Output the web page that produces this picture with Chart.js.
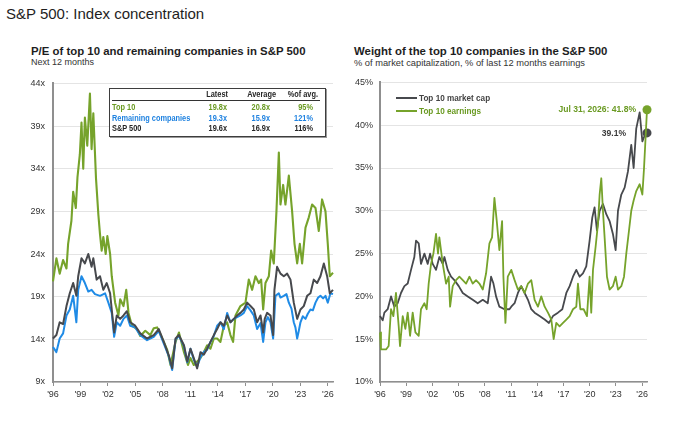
<!DOCTYPE html>
<html lang="en">
<head>
<meta charset="UTF-8" />
<title>S&amp;P 500: Index concentration</title>
<script src="https://cdn.jsdelivr.net/npm/chart.js@4.4.0/dist/chart.umd.min.js"></script>
<style>
  *{box-sizing:border-box;margin:0;padding:0}
  body{width:695px;height:425px;background:#fff;font-family:'Liberation Sans',Arial,sans-serif;color:#1e1e1e;position:relative;overflow:hidden}
  .abs{position:absolute;white-space:nowrap}
  #title{left:6px;top:6px;font-size:15px;line-height:16px}
  .sub{font-size:11.4px;font-weight:700;line-height:12px}
  .note{font-size:9px;line-height:10px;color:#333}
  .wrap{position:absolute;top:70px;height:335px}
  #peWrap{left:0;width:345px}
  #wtWrap{left:345px;width:350px}

  /* P/E table */
  #tblBox{left:109px;top:88px;width:217px;height:49px;border:1.5px solid #3d3d3d;background:#fff;box-shadow:1px 1px 0 #999}
  #tblRule{left:112px;top:100px;width:208px;height:0;border-top:1px solid #333}
  /* narrow look: no condensed face is installed, so squeeze the regular one */
  .cell{font-weight:700;font-size:9px;line-height:10px;transform:scaleX(.82);transform-origin:left center}
  .r{text-align:right;width:50px;transform-origin:right center}
  .g{color:#6a9a22}.b{color:#1f82e0}.k{color:#262626}

  /* weight legend */
  .leg{font-weight:700;font-size:9.5px;line-height:10px;transform:scaleX(.86);transform-origin:left center}
  .swatch{position:absolute;width:21px;height:0;border-top:2.5px solid}
</style>
</head>
<body>
<div id="title" class="abs">S&amp;P 500: Index concentration</div>

<div class="abs sub" style="left:31px;top:45px">P/E of top 10 and remaining companies in S&amp;P 500</div>
<div class="abs note" style="left:31px;top:57px">Next 12 months</div>
<div class="abs sub" style="left:354px;top:45px">Weight of the top 10 companies in the S&amp;P 500</div>
<div class="abs note" style="left:354px;top:58px;font-size:9.3px">% of market capitalization, % of last 12 months earnings</div>

<div id="peWrap" class="wrap"><canvas id="peChart" width="345" height="335"></canvas></div>
<div id="wtWrap" class="wrap"><canvas id="wtChart" width="350" height="335"></canvas></div>

<!-- table over the P/E chart -->
<div id="tblBox" class="abs"></div>
<div id="tblRule" class="abs"></div>
<div class="abs cell k r" style="left:178px;top:89px">Latest</div>
<div class="abs cell k r" style="left:226px;top:89px">Average</div>
<div class="abs cell k r" style="left:268px;top:89px">%of avg.</div>

<div class="abs cell g" style="left:112px;top:102px">Top 10</div>
<div class="abs cell g r" style="left:177px;top:102px">19.8x</div>
<div class="abs cell g r" style="left:220px;top:102px">20.8x</div>
<div class="abs cell g r" style="left:263px;top:102px">95%</div>

<div class="abs cell b" style="left:112px;top:112.5px">Remaining companies</div>
<div class="abs cell b r" style="left:177px;top:112.5px">19.3x</div>
<div class="abs cell b r" style="left:220px;top:112.5px">15.9x</div>
<div class="abs cell b r" style="left:263px;top:112.5px">121%</div>

<div class="abs cell k" style="left:112px;top:123px">S&amp;P 500</div>
<div class="abs cell k r" style="left:177px;top:123px">19.6x</div>
<div class="abs cell k r" style="left:220px;top:123px">16.9x</div>
<div class="abs cell k r" style="left:263px;top:123px">116%</div>

<!-- legend inside the weight chart -->
<div class="swatch" style="left:396px;top:96.5px;border-color:#47494d"></div>
<div class="abs leg" style="left:419px;top:92.5px;color:#444">Top 10 market cap</div>
<div class="swatch" style="left:396px;top:110px;border-color:#76a32b"></div>
<div class="abs leg" style="left:419px;top:106px;color:#6a9a22">Top 10 earnings</div>

<script>
const GREEN = '#76a32b', BLUE = '#1f8be6', DARK = '#47494d';

// x axis: years, ticks every three years
const tickYears = [1996, 1999, 2002, 2005, 2008, 2011, 2014, 2017, 2020, 2023, 2026];
const peTicks = [9, 14, 19, 24, 29, 34, 39, 44];
const wtTicks = [10, 15, 20, 25, 30, 35, 40, 45];

// forward P/E, S&P 500
const spYears = [1996.00,1996.37,1996.73,1997.10,1997.47,1997.83,1998.20,1998.55,1998.75,1999.11,
  1999.48,1999.85,2000.21,2000.40,2000.76,2001.13,2001.49,2001.86,2002.23,2002.41,
  2002.67,2002.96,2003.33,2003.69,2004.06,2004.42,2004.97,2005.52,2006.26,2006.99,
  2007.54,2008.09,2008.64,2009.00,2009.37,2009.74,2010.29,2010.65,
  2011.00,2011.36,2011.73,2012.09,2012.45,2012.82,2013.18,2013.55,2013.91,2014.27,
  2014.64,2015.00,2015.36,2015.73,2016.09,2016.45,2016.82,2017.18,2017.55,2017.91,
  2018.27,2018.64,2018.93,2019.10,2019.36,2019.73,2020.02,2020.16,2020.45,2020.82,
  2021.18,2021.55,2021.91,2022.27,2022.64,2023.00,2023.36,2023.73,2024.09,2024.45,
  2024.82,2025.18,2025.55,2025.91,2026.20,2026.55];
const spPE = [14.1,14.5,16.0,15.8,17.9,19.4,20.6,19.1,21.4,23.5,
  22.9,24.0,22.5,23.5,21.0,21.4,19.8,20.6,19.4,17.5,
  14.8,16.8,16.4,16.8,17.3,16.0,15.6,14.7,14.1,14.5,
  15.2,13.7,12.1,10.6,14.1,14.5,13.3,11.4,
  12.9,11.8,10.6,12.5,12.2,12.9,13.7,14.5,15.2,16.0,
  15.6,16.8,16.0,16.4,16.8,17.1,17.5,18.3,17.9,17.5,
  16.0,16.8,14.8,16.4,17.1,16.8,14.5,19.8,22.5,21.7,
  21.4,21.7,21.0,18.3,16.4,17.5,17.9,19.1,19.4,21.0,
  20.6,21.4,22.9,21.4,19.4,19.8];

// forward P/E, remaining companies
const restYears = [1996.00,1996.37,1996.73,1997.10,1997.47,1997.83,1998.20,1998.55,1998.75,1999.11,
  1999.48,1999.85,2000.21,2000.58,2001.13,2001.68,2002.04,2002.41,2002.67,2002.96,
  2003.33,2003.69,2004.06,2004.42,2004.97,2005.52,2006.26,2006.99,2007.54,2008.09,
  2008.64,2009.00,2009.37,2009.74,2010.29,2010.65,
  2011.00,2011.36,2011.73,2012.09,2012.45,2012.82,2013.18,2013.55,2013.91,2014.27,
  2014.64,2015.00,2015.36,2015.73,2016.09,2016.45,2016.82,2017.18,2017.55,2017.91,
  2018.27,2018.64,2018.93,2019.18,2019.44,2019.73,2020.02,2020.27,2020.64,2020.82,
  2021.18,2021.47,2021.73,2022.02,2022.27,2022.45,2022.64,2022.82,2023.00,2023.25,
  2023.55,2023.80,2024.09,2024.35,2024.64,2024.93,2025.18,2025.47,2025.73,2025.98,
  2026.27,2026.55];
const restPE = [13.1,12.5,14.1,14.7,16.8,17.5,19.1,16.0,19.8,21.4,
  20.6,19.6,19.8,19.3,19.1,19.4,18.3,17.1,14.3,16.0,
  15.6,16.4,16.8,15.6,15.4,14.5,13.9,14.3,15.0,13.5,
  12.0,10.4,14.0,14.4,13.2,11.3,
  12.9,11.6,10.8,11.9,12.5,12.8,13.7,14.4,15.6,16.0,
  15.2,17.1,16.0,16.4,16.6,16.8,17.1,17.9,17.4,16.8,
  15.2,15.9,13.7,16.0,16.6,16.0,14.1,19.1,19.4,18.9,
  19.1,19.3,18.3,17.6,16.0,15.4,14.1,15.0,16.0,16.7,
  16.4,17.0,17.5,17.4,18.3,18.9,19.1,18.8,19.1,18.3,
  19.4,19.3];

// forward P/E, top 10
const topYears = [1996.00,1996.37,1996.73,1997.10,1997.47,1997.65,1998.01,1998.20,1998.49,1998.67,
  1998.93,1999.11,1999.30,1999.48,1999.74,2000.03,2000.21,2000.40,2000.69,2000.95,
  2001.13,2001.31,2001.49,2001.75,2001.93,2002.23,2002.41,2002.78,2003.14,2003.33,
  2003.69,2003.99,2004.24,2004.61,2005.16,2005.52,2006.07,2006.62,2006.99,2007.36,
  2007.72,2008.09,2008.45,2008.82,2009.37,2009.74,2010.29,2010.73,
  2011.00,2011.36,2011.73,2012.09,2012.45,2012.82,2013.18,2013.55,2013.91,2014.27,
  2014.64,2015.00,2015.36,2015.65,2015.91,2016.45,2017.00,2017.36,2017.73,2018.09,
  2018.45,2018.71,2018.93,2019.18,2019.55,2019.80,2020.09,2020.38,2020.64,2020.82,
  2021.11,2021.36,2021.73,2022.09,2022.35,2022.64,2022.93,2023.18,2023.55,2023.91,
  2024.27,2024.64,2025.00,2025.36,2025.73,2025.98,2026.20,2026.55];
const topPE = [20.8,23.5,21.7,23.3,22.3,25.2,27.9,31.3,29.4,33.0,
  35.7,39.4,34.0,40.0,36.7,42.8,36.3,40.5,32.9,28.6,
  26.3,24.4,26.0,24.0,26.1,24.0,21.4,18.3,16.8,18.7,
  17.9,19.8,17.1,15.6,15.2,14.4,15.0,14.5,15.3,15.4,
  14.6,13.7,12.8,11.0,13.7,14.8,12.5,11.0,
  11.8,11.0,11.4,11.8,12.5,13.3,12.9,14.1,14.1,13.7,
  15.6,16.0,14.5,13.7,16.8,17.9,18.3,21.0,19.8,21.4,
  20.6,21.0,17.5,20.6,21.4,24.4,22.9,29.0,35.9,29.8,
  32.1,29.8,33.2,29.0,25.2,22.9,25.2,22.9,27.1,28.3,
  29.8,29.4,26.7,30.4,29.0,25.2,21.4,21.8];

// weight of top 10: % of market cap
const mcapYears = [1996.00,1996.31,1996.50,1996.88,1997.26,1997.64,1998.02,1998.40,1998.79,1999.17,
  1999.55,1999.93,2000.12,2000.43,2000.69,2001.08,2001.46,2001.73,2002.03,2002.41,
  2002.79,2003.18,2003.37,2003.75,2004.13,2004.51,2005.01,2005.47,2006.04,2006.61,
  2007.18,2007.76,2008.33,2008.71,2008.98,2009.28,2009.66,2010.24,2010.81,
  2011.02,2011.40,2011.78,2012.16,2012.55,2012.93,2013.31,2013.69,2014.26,2014.84,
  2015.33,2015.79,2016.36,2016.86,2017.32,2017.70,2018.08,2018.46,2018.84,2019.22,
  2019.60,2019.98,2020.29,2020.55,2020.82,2021.13,2021.51,2021.89,2022.27,2022.65,
  2022.96,2023.23,2023.61,2023.99,2024.37,2024.75,2025.02,2025.32,2025.71,2026.02,
  2026.28,2026.55];
const mcapShare = [17.7,17.2,18.1,18.5,20.0,18.8,19.2,20.4,21.2,21.5,
  23.1,24.6,26.5,26.2,23.8,25.0,23.8,25.0,23.8,23.1,
  24.6,23.8,24.6,23.1,22.3,21.9,21.2,20.4,20.0,19.6,
  19.2,19.6,19.2,22.3,21.5,20.0,18.8,18.5,18.5,
  18.8,19.2,20.4,21.2,20.4,19.6,18.5,18.1,17.7,17.3,
  16.9,17.7,18.1,18.5,20.4,21.2,22.3,23.1,22.3,22.7,
  23.5,26.5,29.2,30.4,27.7,30.0,30.8,29.6,28.8,27.3,
  25.4,30.0,31.9,32.7,34.6,37.7,35.0,39.6,41.5,38.1,
  38.8,39.1];

// weight of top 10: % of last 12 months earnings
const earnYears = [1996.00,1996.11,1996.69,1996.99,1997.26,1997.53,1997.83,1998.14,1998.29,1998.60,
  1998.90,1999.17,1999.44,1999.74,2000.05,2000.43,2000.69,2001.08,2001.34,2001.57,
  2001.84,2002.11,2002.41,2002.64,2002.79,2003.18,2003.56,2003.86,2004.02,2004.32,
  2004.70,2005.08,2005.47,2005.85,2006.23,2006.61,2006.99,2007.37,2007.76,2008.14,
  2008.52,2008.82,2009.09,2009.36,2009.66,2009.97,2010.12,2010.35,2010.62,
  2011.02,2011.40,2011.78,2012.16,2012.55,2012.93,2013.31,2013.69,2014.07,2014.45,
  2014.84,2015.22,2015.60,2015.87,2016.17,2016.55,2016.94,2017.32,2017.70,2018.08,
  2018.46,2018.65,2018.92,2019.30,2019.68,2019.98,2020.17,2020.37,2020.67,2020.94,
  2021.13,2021.32,2021.51,2021.70,2021.97,2022.27,2022.65,2022.96,2023.23,2023.61,
  2023.92,2024.18,2024.49,2024.75,2025.02,2025.32,2025.71,2026.02,2026.21,2026.40,
  2026.55];
const earnShare = [15.8,13.8,13.8,14.2,18.5,17.7,20.4,16.5,14.2,17.7,
  16.2,18.1,15.4,18.1,15.8,15.4,18.5,19.2,18.5,21.5,
  23.8,25.0,27.3,25.0,26.9,23.8,21.5,22.3,18.8,21.2,
  21.9,22.3,21.9,21.5,22.3,21.5,21.9,21.5,20.8,22.7,
  26.2,26.9,31.5,28.8,25.4,28.8,22.3,16.9,22.3,
  23.1,21.9,20.8,21.2,20.4,21.5,21.9,19.6,18.8,20.0,
  18.8,18.1,17.3,15.0,16.9,16.5,16.9,17.3,17.7,18.5,
  18.8,21.5,18.5,18.5,17.7,22.3,18.1,23.1,25.8,28.5,
  31.9,33.8,30.0,26.9,22.3,20.8,21.2,22.3,20.8,21.2,
  22.3,25.0,27.7,30.0,31.2,32.3,33.1,31.9,35.0,38.8,
  41.8];

const pts = (xs, ys) => xs.map((x, i) => ({x, y: ys[i]}));
const lastDot = (arr, r) => arr.map((_, i) => i === arr.length - 1 ? r : 0);

Chart.defaults.font.family = "'Liberation Sans', Arial, sans-serif";
Chart.defaults.font.size = 9;
Chart.defaults.color = '#333';

function line(label, data, color, width) {
  return {label, data, borderColor: color, backgroundColor: color, borderWidth: width,
    pointRadius: 0, tension: 0, borderJoinStyle: 'round', clip: false};
}

function xAxis(height) {
  return {
    type: 'linear', min: 1996, max: 2026.55,
    afterBuildTicks: s => { s.ticks = tickYears.map(v => ({value: v})); },
    afterFit: s => { s.height = height; },
    ticks: {callback: v => "'" + String(v).slice(2), autoSkip: false, maxRotation: 0, padding: 3, color: '#333'},
    grid: {drawOnChartArea: false, drawTicks: true, tickLength: 4, color: '#8f8f8f', lineWidth: 1},
    border: {display: true, color: '#8f8f8f', width: 1.5}
  };
}

function yAxis(ticks, width, pad, suffix) {
  return {
    type: 'linear', min: ticks[0], max: ticks[ticks.length - 1],
    afterBuildTicks: s => { s.ticks = ticks.map(v => ({value: v})); },
    afterFit: s => { s.width = width; },
    ticks: {callback: v => v + suffix, padding: pad, color: '#333'},
    grid: {drawTicks: false, color: '#e4e4e4', lineWidth: 1},
    border: {display: true, color: '#8f8f8f', width: 2}
  };
}

new Chart(document.getElementById('peChart'), {
  type: 'line',
  data: {datasets: [
    line('S&P 500', pts(spYears, spPE), DARK, 2),
    line('Remaining companies', pts(restYears, restPE), BLUE, 2),
    line('Top 10', pts(topYears, topPE), GREEN, 2.1)
  ]},
  options: {
    responsive: false, animation: false,
    layout: {padding: {top: 8, right: 12, left: 0, bottom: 0}},
    plugins: {legend: {display: false}, tooltip: {enabled: false}},
    scales: {x: xAxis(23), y: yAxis(peTicks, 53, 8, 'x')}
  }
});

// end-of-series labels on the weight chart, squeezed to a narrow face
function narrowText(ctx, text, x, y) {
  ctx.save();
  ctx.translate(x, y);
  ctx.scale(0.9, 1);
  ctx.fillText(text, 0, 0);
  ctx.restore();
}

const endLabels = {
  id: 'endLabels',
  afterDatasetsDraw(chart) {
    const {ctx, scales: {x, y}} = chart;
    const gi = earnYears.length - 1, mi = mcapYears.length - 1;
    ctx.save();
    ctx.font = "bold 9.5px 'Liberation Sans', Arial, sans-serif";
    ctx.textAlign = 'right';
    ctx.textBaseline = 'middle';
    ctx.fillStyle = '#6a9a22';
    narrowText(ctx, 'Jul 31, 2026: ' + earnShare[gi].toFixed(1) + '%', x.getPixelForValue(earnYears[gi]) - 11, y.getPixelForValue(earnShare[gi]));
    ctx.fillStyle = '#3a3a3a';
    narrowText(ctx, mcapShare[mi].toFixed(1) + '%', x.getPixelForValue(mcapYears[mi]) - 21, y.getPixelForValue(mcapShare[mi]));
    ctx.restore();
  }
};

const earnSet = line('Top 10 earnings', pts(earnYears, earnShare), GREEN, 1.8);
earnSet.pointRadius = lastDot(earnShare, 4.5);
earnSet.pointBorderWidth = 0;
const mcapSet = line('Top 10 market cap', pts(mcapYears, mcapShare), DARK, 1.8);
mcapSet.pointRadius = lastDot(mcapShare, 4.5);
mcapSet.pointBorderWidth = 0;

new Chart(document.getElementById('wtChart'), {
  type: 'line',
  data: {datasets: [earnSet, mcapSet]},
  options: {
    responsive: false, animation: false,
    layout: {padding: {top: 9, right: 48, left: 0, bottom: 0}},
    plugins: {legend: {display: false}, tooltip: {enabled: false}},
    scales: {x: xAxis(23), y: yAxis(wtTicks, 35, 7, '%')}
  },
  plugins: [endLabels]
});
</script>
</body>
</html>
